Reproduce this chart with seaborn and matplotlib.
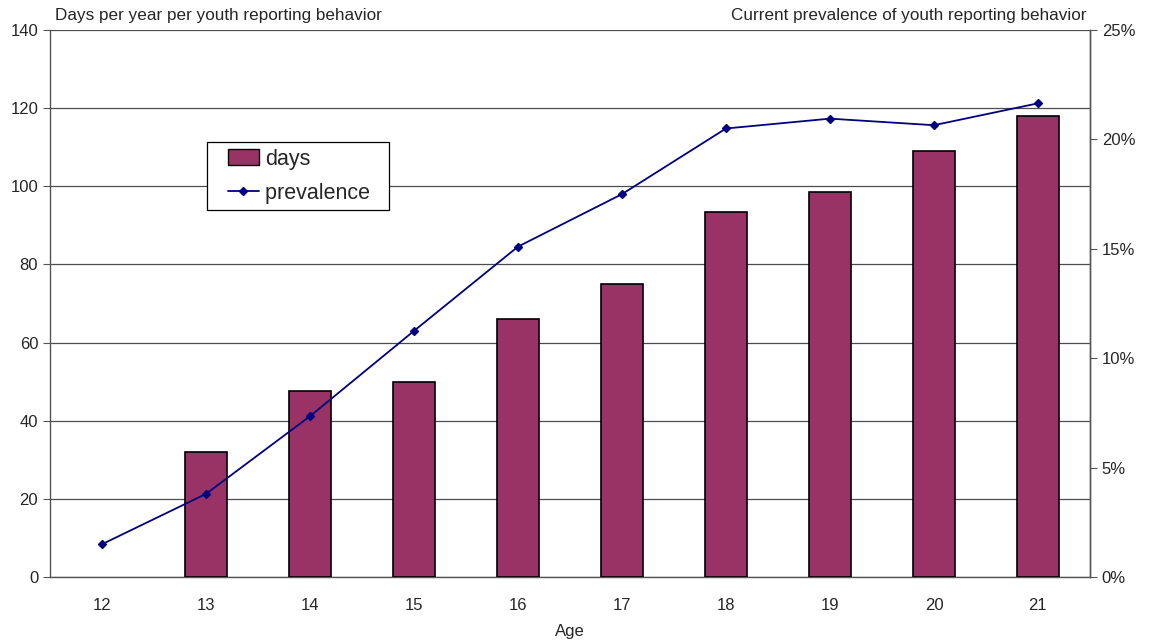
import numpy as np
import pandas as pd
import matplotlib
matplotlib.use("Agg")
import matplotlib.pyplot as plt
import seaborn as sns
from matplotlib.lines import Line2D
from matplotlib.patches import Patch
from matplotlib.legend_handler import HandlerPatch, HandlerLine2D
from matplotlib.ticker import PercentFormatter

ages = ["12", "13", "14", "15", "16", "17", "18", "19", "20", "21"]
days = [np.nan, 32, 47.5, 50, 66, 75, 93.5, 98.5, 109, 118]
prevalence = [1.5, 3.8, 7.35, 11.25, 15.1, 17.5, 20.5, 20.95, 20.65, 21.65]

bar_color = "#993366"
line_color = "#000080"

sns.set_style("white")
plt.rcParams["font.family"] = ["Liberation Sans", "DejaVu Sans"]

df = pd.DataFrame({"age": ages, "days": days, "prevalence": prevalence})

fig = plt.figure(figsize=(11.53, 6.43), dpi=100)
ax = fig.add_axes([0.0434, 0.1026, 0.9019, 0.8507])

sns.barplot(data=df, x="age", y="days", order=ages, color=bar_color, saturation=1,
            width=0.4, edgecolor="black", linewidth=1.2, ax=ax, zorder=3)

ax2 = ax.twinx()
sns.pointplot(data=df, x="age", y="prevalence", order=ages, color=line_color,
              markers="D", markersize=4.5, linewidth=1.3, ax=ax2)

ax.set_xlim(-0.5, len(ages) - 0.5)
ax.set_ylim(0, 140)
ax.set_yticks(range(0, 141, 20))
ax2.set_ylim(0, 25)
ax2.set_yticks(range(0, 26, 5))
ax2.yaxis.set_major_formatter(PercentFormatter(decimals=0))

ax.yaxis.grid(True, color="#4d4d4d", linewidth=0.9)
ax.set_axisbelow(True)
ax.set_zorder(0)
ax2.set_zorder(1)
ax2.patch.set_visible(False)

# ticks between categories on the x axis
ax.set_xticks(np.arange(len(ages)))
ax.set_xticklabels(ages)
ax.set_xticks(np.arange(len(ages) + 1) - 0.5, minor=True)
ax.tick_params(axis="x", which="major", length=0, pad=15, labelsize=12)
ax.tick_params(axis="x", which="minor", length=5, direction="out", color="#555555")
ax.tick_params(axis="y", length=5, direction="out", labelsize=12, left=True, color="#555555")
ax2.tick_params(axis="y", length=5, direction="out", labelsize=12, right=True, color="#555555")

for a in (ax, ax2):
    a.spines["top"].set_visible(False)
    for s in ("left", "right", "bottom"):
        a.spines[s].set_color("#555555")
        a.spines[s].set_linewidth(1.0)
ax2.spines["left"].set_visible(False)
ax2.spines["bottom"].set_visible(False)

ax.set_xlabel("Age", fontsize=12, labelpad=8)
ax.set_ylabel("")
ax2.set_ylabel("")
ax.text(0.005, 1.012, "Days per year per youth reporting behavior",
        transform=ax.transAxes, fontsize=12.3, ha="left", va="bottom")
ax.text(0.997, 1.012, "Current prevalence of youth reporting behavior",
        transform=ax.transAxes, fontsize=12.3, ha="right", va="bottom")

handles = [Patch(facecolor=bar_color, edgecolor="black", linewidth=1.0),
           Line2D([0], [0], color=line_color, marker="D", markersize=4.5, linewidth=1.3)]
leg = ax2.legend(handles, ["days", "prevalence  "], loc="upper left",
                 bbox_to_anchor=(0.151, 0.795), borderaxespad=0, fontsize=15.5,
                 frameon=True, fancybox=False, edgecolor="black", framealpha=1,
                 handlelength=2.1, handleheight=0.8, handletextpad=0.3,
                 borderpad=0.3, labelspacing=0.6,
                 handler_map={Patch: HandlerPatch(xpad=0.65),
                              Line2D: HandlerLine2D(xpad=0.65)})
leg.get_frame().set_linewidth(0.9)

fig.savefig("out.png", dpi=100)
